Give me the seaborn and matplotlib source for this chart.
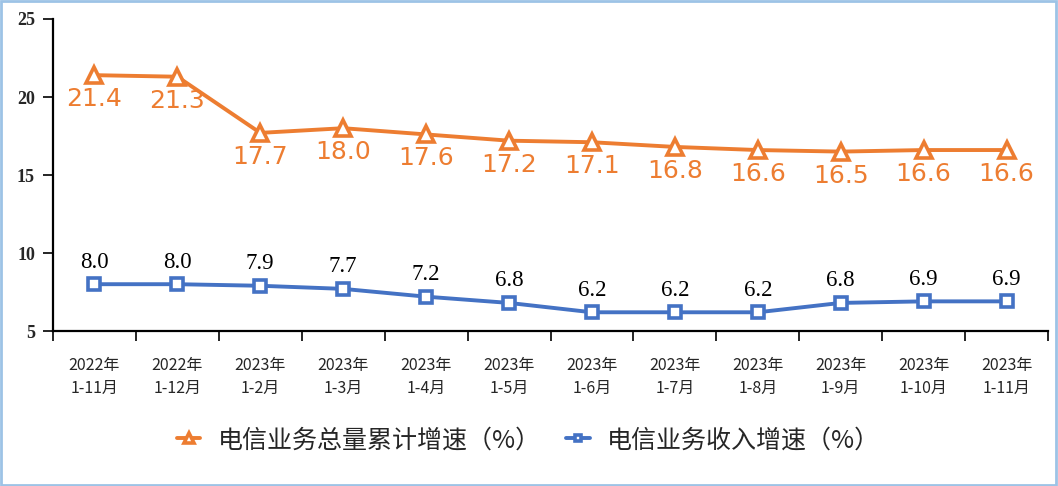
import matplotlib
matplotlib.use("Agg")
import matplotlib.pyplot as plt
import seaborn as sns
import pandas as pd
import numpy as np
from matplotlib.patches import Rectangle

categories = ["2022年\n1-11月", "2022年\n1-12月", "2023年\n1-2月", "2023年\n1-3月",
              "2023年\n1-4月", "2023年\n1-5月", "2023年\n1-6月", "2023年\n1-7月",
              "2023年\n1-8月", "2023年\n1-9月", "2023年\n1-10月", "2023年\n1-11月"]
volume_growth = [21.4, 21.3, 17.7, 18.0, 17.6, 17.2, 17.1, 16.8, 16.6, 16.5, 16.6, 16.6]
revenue_growth = [8.0, 8.0, 7.9, 7.7, 7.2, 6.8, 6.2, 6.2, 6.2, 6.8, 6.9, 6.9]
series_names = ["电信业务总量累计增速（%）", "电信业务收入增速（%）"]
yticks = [5, 10, 15, 20, 25]

sns.set_theme(style="white")
plt.rcParams['font.family'] = ['Noto Sans CJK SC', 'DejaVu Sans']

ORANGE = "#ED7D31"
BLUE = "#4472C4"

fig = plt.figure(figsize=(10.58, 4.86), dpi=100)
fig.patches.append(Rectangle((0.001, 0.002), 0.997, 0.995, transform=fig.transFigure,
                             fill=False, edgecolor="#9DC3E6", linewidth=2.0))
ax = fig.add_axes([53/1058, 1-331/486, (1048-53)/1058, (331-19)/486])

x = np.arange(len(categories))
df = pd.DataFrame({"x": x, "vol": volume_growth, "rev": revenue_growth})

sns.lineplot(data=df, x="x", y="vol", ax=ax, color=ORANGE, linewidth=2.8,
             marker="^", markersize=11, markerfacecolor="white",
             markeredgecolor=ORANGE, markeredgewidth=2.6, label=series_names[0])
sns.lineplot(data=df, x="x", y="rev", ax=ax, color=BLUE, linewidth=2.8,
             marker="s", markersize=8, markerfacecolor="white",
             markeredgecolor=BLUE, markeredgewidth=2.6, label=series_names[1])

for xi, v in zip(x, volume_growth):
    ax.annotate(f"{v:.1f}", (xi, v), xytext=(0, -24), textcoords="offset pixels",
                ha="center", va="center", color=ORANGE, fontsize=18,
                family="DejaVu Sans")
for xi, v in zip(x, revenue_growth):
    ax.annotate(f"{v:.1f}", (xi, v), xytext=(0, 22), textcoords="offset pixels",
                ha="center", va="center", color="black", fontsize=16.5,
                family="Liberation Serif")

ax.set_xlim(-0.5, len(categories) - 0.5)
ax.set_ylim(5, 25)
ax.set_yticks(yticks)
ax.set_yticklabels([str(t) for t in yticks], family="Liberation Serif",
                   fontsize=13, fontweight="bold")
ax.set_xticks(np.arange(-0.5, len(categories), 1.0))
ax.set_xticklabels([])
ax.set_xticks(x, minor=True)
ax.set_xticklabels(categories, minor=True, fontsize=11.5, linespacing=1.45)
ax.tick_params(axis="x", which="major", direction="out", length=7, width=1.2,
               color="black", bottom=True)
ax.tick_params(axis="x", which="minor", length=0, pad=19)
ax.tick_params(axis="y", direction="out", length=7, width=1.2, color="black",
               left=True, pad=6)
ax.set_xlabel("")
ax.set_ylabel("")
for s in ["top", "right"]:
    ax.spines[s].set_visible(False)
for s in ["left", "bottom"]:
    ax.spines[s].set_color("black")
    ax.spines[s].set_linewidth(1.6)

leg = ax.legend(loc="center", bbox_to_anchor=(0.478, -0.35), ncol=2, frameon=False,
                fontsize=18, handlelength=0.95, columnspacing=1.0, handletextpad=0.7,
                markerscale=0.62)

fig.savefig("out.png", dpi=100)
